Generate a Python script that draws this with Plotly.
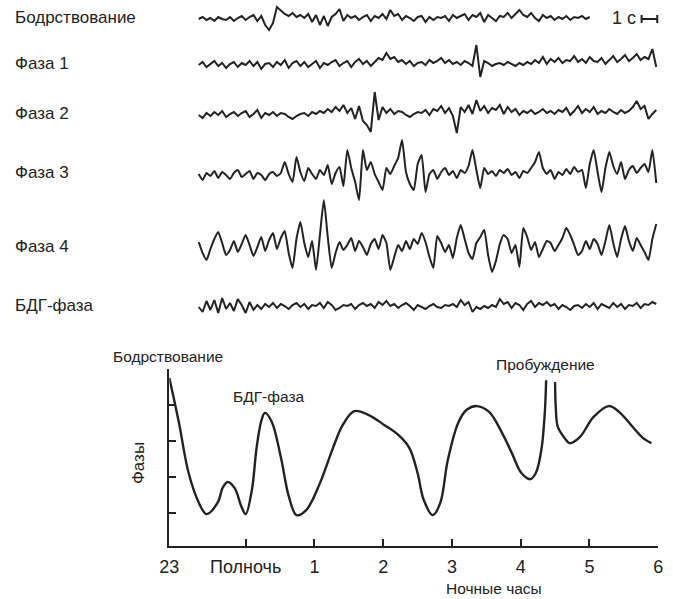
import plotly.graph_objects as go

# --- ЭЭГ-фрагменты: отклонения в условных единицах, шаг 0.25 с ---
STEP_S = 0.25
EEG_LABELS = ["Бодрствование", "Фаза 1", "Фаза 2", "Фаза 3", "Фаза 4", "БДГ-фаза"]

wake = [0, 2, -1, 1, -2, 2, 0, -1, 2, -2,
        1, 3, -1, 2, 4, -2, 3, -6, -11, -4,
        12, 8, 5, 3, 6, 2, 4, 1, 5, -3,
        4, -6, 3, -7, 2, 5, 10, -2, 4, 1,
        3, -1, 2, 4, -2, 3, 1, 5, 0, 9,
        3, 5, -1, 3, 1, -2, 2, 3, -3, 2,
        -1, 2, 1, 3, -2, 4, 1, 3, 5, -1,
        4, 2, 6, -3, 4, 1, -2, 3, 2, 6,
        1, 5, 9, 4, 2, 6, 1, -2, 4, 1,
        3, -1, 2, 0, 3, -1, 2, 1, 3, 0, 2]

phase1 = [0, 3, -2, 1, 4, -1, 2, -3, 1, 3,
          -2, 2, 0, 4, -1, 3, -4, 1, 2, -2,
          3, 0, 5, -3, 2, 4, -1, 3, -2, 1,
          4, -3, 2, 0, 3, 5, -1, 2, 4, -2,
          3, 6, 1, 4, -1, 3, 7, 5, 12, 6,
          8, 3, 5, 1, 4, -1, 2, 3, 0, 5,
          2, 4, 7, 2, 5, 1, 3, 0, 4, 2,
          -1, 20, -12, 4, 2, -1, 1, 2, 0, 3,
          1, -1, 2, 0, 3, 1, 5, 2, 8, 1,
          6, 3, 7, 2, 5, 4, 9, 3, 6, 2,
          8, 4, 3, 7, 1, 5, 9, 3, 6, 10,
          4, 7, 11, 5, 8, 6, 16, -2]

phase2 = [0, -3, 2, -1, 3, 0, 4, -2, 1, 3,
          -1, 2, 4, -2, 1, 5, -3, 2, 0, 3,
          -1, 2, 1, -2, -4, -1, 1, 2, -1, 3,
          1, 4, 2, 6, 3, 8, 4, 10, 2, 7,
          -4, 9, -6, -10, -17, 23, -5, 8, 2, 6,
          1, 4, 3, 0, -2, 1, 3, 2, 5, 0,
          6, 4, 9, 2, 7, -1, -18, 8, 3, 10,
          1, 15, 4, 9, 2, 7, 5, 10, 1, 8,
          3, 6, 0, 4, 2, 5, 1, 3, 6, 2,
          4, 1, 5, 3, 7, 0, 4, 9, 2, 6,
          3, 8, 1, 4, 2, 6, 3, 1, 5, 2,
          4, 8, 14, 6, 9, -4, 1, 5]

phase3 = [2, -4, 3, 0, 5, -2, 4, 1, -3, 3,
          6, -1, 2, 5, -3, 3, 1, -4, 2, 4,
          0, 3, 14, 2, -6, 19, 4, -5, 8, 2,
          -3, 6, 1, 11, -8, 3, 9, -10, 26, 8,
          -6, -24, 26, 6, 14, 2, -6, -14, 8, 2,
          10, 18, 36, 4, -8, -14, 12, 21, -16, 2,
          6, -3, 4, 8, 1, 5, -2, 6, 3, 10,
          26, 6, -12, 8, 2, 5, 0, 6, 3, 7,
          1, 4, -2, 5, 3, 8, 14, 24, 8, 2,
          6, -3, 4, 1, 7, 2, 9, 4, 6, -12,
          12, 26, 4, -16, 8, 24, 10, 2, 14, -3,
          6, 10, 3, 8, 12, 4, 26, -7]

phase4 = [5, -6, -13, -2, 8, 15, 4, -8, -3, 6,
          -5, 3, 12, 2, -9, 0, 10, -4, 7, 14,
          -2, 9, 16, -6, -21, 8, 25, 4, -10, 6,
          -23, 12, 47, 10, -21, -6, 5, -3, 2, 9,
          -4, 6, 0, -8, 3, 8, -2, 12, 4, -23,
          -10, 2, -4, 6, -2, 8, 3, 14, 5, -10,
          -21, 11, 4, -5, 2, -11, 9, 22, 8, -6,
          -12, 4, 10, 17, -8, -25, -14, 3, 12, 8,
          -6, 2, -20, 19, 10, -3, 5, -10, -2, 6,
          4, -4, 2, 9, 19, 12, 2, -8, -4, 6,
          -2, 8, 3, -8, 6, 22, 4, -10, 8, 21,
          6, -4, 9, 2, -5, -13, 8, 23]

rem = [0, -5, 6, -3, 7, -6, 9, -2, 4, -4,
       8, 2, -6, 5, -3, 2, -2, 3, 0, 4,
       -1, 3, 1, -2, 2, 4, 0, 3, -2, 2,
       1, 4, -1, 5, 2, -3, -1, 2, 1, 3,
       -2, 2, 4, 1, 3, -1, 5, 2, 6, 1,
       3, -1, 2, 4, 1, -3, 2, 0, -2, 1,
       3, 0, -1, 2, 1, 3, 0, 7, 2, 5,
       -5, 0, -2, 1, -1, 2, 0, 8, 3, 5,
       -1, 4, 2, -3, 3, 6, 0, 4, 2, 5,
       1, 3, -2, 2, 0, -3, 1, 2, -1, 3,
       0, 4, -2, 3, 1, -1, 4, 0, 3, -2,
       2, 1, 4, -1, 3, 2, 5, 3]

EEG_SERIES = [wake, phase1, phase2, phase3, phase4, rem]
SCALE_BAR_S = 1.0

# --- гипнограмма: часы от полуночи и глубина сна (0 = бодрствование) ---
hours = [-1.11, -0.97, -0.83, -0.68, -0.57, -0.41, -0.33, -0.26, -0.16, -0.06,
         0.00, 0.09, 0.16, 0.23, 0.28, 0.38, 0.51, 0.63, 0.74, 0.88,
         1.08, 1.27, 1.41, 1.58, 1.79, 2.02, 2.22, 2.38, 2.50, 2.59,
         2.72, 2.83, 2.94, 3.09, 3.21, 3.36, 3.54, 3.73, 3.87, 4.01,
         4.14, 4.22, 4.30, 4.35, 4.37, None,
         4.50, 4.51, 4.54, 4.64, 4.71, 4.86, 5.06, 5.28, 5.43, 5.63,
         5.78, 5.90]
stage = [0.25, 1.50, 2.89, 3.72, 4.03, 3.72, 3.28, 3.14, 3.31, 3.83,
         4.03, 3.36, 2.17, 1.42, 1.22, 1.47, 2.44, 3.56, 4.06, 3.92,
         3.17, 2.19, 1.56, 1.17, 1.28, 1.56, 1.83, 2.19, 2.89, 3.64,
         4.06, 3.72, 2.53, 1.50, 1.14, 1.03, 1.19, 1.78, 2.33, 2.89,
         3.06, 2.89, 2.25, 1.22, 0.31, None,
         0.36, 1.06, 1.61, 1.92, 2.06, 1.89, 1.33, 1.03, 1.19, 1.61,
         1.92, 2.06]

HOUR_TICKS = [-1.11, 0, 1, 2, 3, 4, 5, 6]
HOUR_LABELS = ["23", "Полночь", "1", "2", "3", "4", "5", "6"]

W, H = 673, 599
INK = "#222222"
FONT = "Arial, Liberation Sans, sans-serif"

# базовые линии ЭЭГ (пиксели от верха) и начало записи
BASELINES = [19, 65, 115, 176, 247, 307]
X0_PX, PX_PER_S = 193, 16
SMOOTH = [False, False, False, True, True, False]


def px(x):
    return x / W


def py(y):
    return 1 - y / H


fig = go.Figure()

for vals, base, smooth in zip(EEG_SERIES, BASELINES, SMOOTH):
    line = dict(color=INK, width=2.0)
    if smooth:
        line.update(shape="spline", smoothing=0.5)
    fig.add_trace(go.Scatter(
        x=[i * STEP_S for i in range(len(vals))],
        y=[v - base for v in vals],
        mode="lines", line=line,
        hoverinfo="skip", showlegend=False,
        xaxis="x", yaxis="y"))

fig.add_trace(go.Scatter(
    x=hours, y=stage, mode="lines", connectgaps=False,
    line=dict(color=INK, width=2.4, shape="spline", smoothing=1.0),
    showlegend=False, xaxis="x2", yaxis="y2"))

# шкала 1 с
bar_t0 = (646 - X0_PX) / PX_PER_S
bar_y = -19
fig.add_shape(type="line", xref="x", yref="y", x0=bar_t0, x1=bar_t0 + SCALE_BAR_S,
              y0=bar_y, y1=bar_y, line=dict(color=INK, width=2))
for t in (bar_t0, bar_t0 + SCALE_BAR_S):
    fig.add_shape(type="line", xref="x", yref="y", x0=t, x1=t,
                  y0=bar_y - 4, y1=bar_y + 4, line=dict(color=INK, width=2))

annotations = []
label_y = [18, 63, 113, 173, 246, 305]
for name, yy in zip(EEG_LABELS, label_y):
    annotations.append(dict(text=name, x=px(3), y=py(yy), xref="paper", yref="paper",
                            xanchor="left", yanchor="middle", showarrow=False,
                            font=dict(size=17, color=INK, family=FONT)))
annotations.append(dict(text="1 с", x=px(628), y=py(18), xref="paper", yref="paper",
                        xanchor="center", yanchor="middle", showarrow=False,
                        font=dict(size=18, color=INK, family=FONT)))

for text, x, y in [("Бодрствование", 162, 356), ("БДГ-фаза", 265, 396),
                   ("Пробуждение", 548, 364), ("Ночные часы", 495, 588)]:
    annotations.append(dict(text=text, x=px(x), y=py(y), xref="paper", yref="paper",
                            xanchor="center", yanchor="middle", showarrow=False,
                            font=dict(size=15.5, color=INK, family=FONT)))
annotations.append(dict(text="Фазы", x=px(131), y=py(463), xref="paper", yref="paper",
                        textangle=-90, xanchor="center", yanchor="middle", showarrow=False,
                        font=dict(size=17, color=INK, family=FONT)))

fig.update_layout(
    width=W, height=H,
    margin=dict(l=0, r=0, t=0, b=0),
    paper_bgcolor="white", plot_bgcolor="white",
    xaxis=dict(range=[-X0_PX / PX_PER_S, (W - X0_PX) / PX_PER_S], domain=[0, 1],
               visible=False, fixedrange=True),
    yaxis=dict(range=[-H, 0], domain=[0, 1], visible=False, fixedrange=True),
    xaxis2=dict(range=[-1.11, 6.0], domain=[px(163), px(663)], anchor="y2",
                showline=True, linecolor=INK, linewidth=2,
                ticks="inside", ticklen=7, tickwidth=2, tickcolor=INK,
                tickvals=HOUR_TICKS, ticktext=HOUR_LABELS,
                tickfont=dict(size=18, color=INK, family=FONT),
                ticklabelstandoff=3,
                showgrid=False, zeroline=False, fixedrange=True),
    yaxis2=dict(range=[(546 - 369) / 36, 0], domain=[py(546), py(369)], anchor="x2",
                showline=True, linecolor=INK, linewidth=2,
                ticks="inside", ticklen=7, tickwidth=2, tickcolor=INK,
                tickvals=[0, 1, 2, 3, 4], showticklabels=False,
                showgrid=False, zeroline=False, fixedrange=True),
    annotations=annotations,
)

# убрать отступы и полосы прокрутки страницы, чтобы рисунок лёг ровно в окно
fig.write_html(
    "out.html",
    config={"displayModeBar": False},
    post_script="document.body.style.margin='0';document.body.style.overflow='hidden';",
)
